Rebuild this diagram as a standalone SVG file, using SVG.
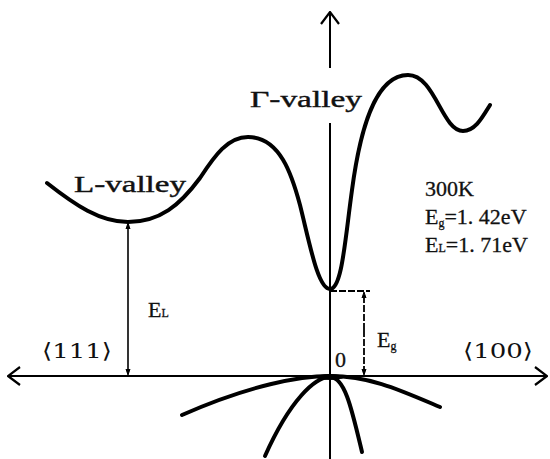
<svg xmlns="http://www.w3.org/2000/svg" width="550" height="459" viewBox="0 0 550 459">
<style>
.band{fill:none;stroke:#000;stroke-width:4;stroke-linecap:round;stroke-linejoin:round}
.axis{fill:none;stroke:#000;stroke-width:2}
.thin{fill:none;stroke:#000;stroke-width:1.6}
.dash{fill:none;stroke:#000;stroke-width:1.8;stroke-dasharray:7 2}
.lab{font-family:"Liberation Serif","DejaVu Serif",serif;font-size:23px;fill:#111;stroke:#111;stroke-width:0.4}
.serif{font-family:"Liberation Serif","DejaVu Serif",serif;font-size:22px;fill:#111;stroke:#111;stroke-width:0.3}
.br{font-family:"DejaVu Serif","Liberation Serif",serif;font-size:21px;fill:#111}
</style>
<defs>
<marker id="open" viewBox="0 0 14 20" refX="13" refY="10" markerWidth="14" markerHeight="20" markerUnits="userSpaceOnUse" orient="auto">
<path d="M1,1 L13,10 L1,19" fill="none" stroke="#000" stroke-width="2.2"/>
</marker>
<marker id="tick" viewBox="0 0 6 14" refX="5" refY="7" markerWidth="6" markerHeight="14" markerUnits="userSpaceOnUse" orient="auto">
<path d="M0,5 L6,7 L0,9 Z" fill="#000" stroke="#000" stroke-width="1"/>
</marker>
</defs>
<g id="connectors">
<line class="axis" x1="275" y1="376" x2="547" y2="376" marker-end="url(#open)"/>
<line class="axis" x1="275" y1="376" x2="8" y2="376" marker-end="url(#open)"/>
<line class="axis" x1="330" y1="459" x2="330" y2="123"/>
<line class="axis" x1="330" y1="68" x2="330" y2="12" marker-end="url(#open)"/>
<line class="thin" x1="128" y1="300" x2="128" y2="224" marker-end="url(#tick)"/>
<line class="thin" x1="128" y1="300" x2="128" y2="374" marker-end="url(#tick)"/>
<line class="dash" x1="330" y1="291" x2="370" y2="291"/>
<line class="dash" x1="364" y1="330" x2="364" y2="293" marker-end="url(#tick)"/>
<line class="dash" x1="364" y1="330" x2="364" y2="374" marker-end="url(#tick)"/>
</g>
<g id="conduction-band">
<path class="band" d="M47,183 C75,205 100,222 128,222 C160,222 180,205 200,178 C215,155 228,137 248,137 C280,137 292,175 300,205 C310,245 318,289 330,289 C342,289 345,240 352,190 C360,130 375,75 408,75 C435,75 442,131 463,131 C475,131 482,118 490,105"/>
</g>
<g id="valence-bands">
<path class="band" d="M182,415 C250,385 300,376 330,376 C370,376 400,390 440,407"/>
<path class="band" d="M265,456 C290,400 315,377 330,377 C345,377 352,410 362,452"/>
<ellipse cx="330" cy="377" rx="14" ry="3" fill="#000"/>
</g>
<g id="labels">
<text class="lab" x="74" y="192" textLength="112" lengthAdjust="spacingAndGlyphs">L-valley</text>
<text class="lab" x="250" y="107" textLength="112" lengthAdjust="spacingAndGlyphs">Γ-valley</text>
<text class="serif" x="425" y="196">300K</text>
<text class="serif" x="425" y="224">E<tspan font-size="12" dy="3">g</tspan><tspan dy="-3">=1. 42eV</tspan></text>
<text class="serif" x="425" y="252">E<tspan font-size="12" dy="0">L</tspan>=1. 71eV</text>
<text class="serif" x="148" y="317">E<tspan font-size="12">L</tspan></text>
<text class="serif" x="377" y="347">E<tspan font-size="12" dy="3">g</tspan></text>
<text class="serif" x="335" y="367">0</text>
<text class="br" x="42" y="358" textLength="70" lengthAdjust="spacingAndGlyphs">⟨111⟩</text>
<text class="br" x="463" y="358" textLength="70" lengthAdjust="spacingAndGlyphs">⟨100⟩</text>
</g>
</svg>
